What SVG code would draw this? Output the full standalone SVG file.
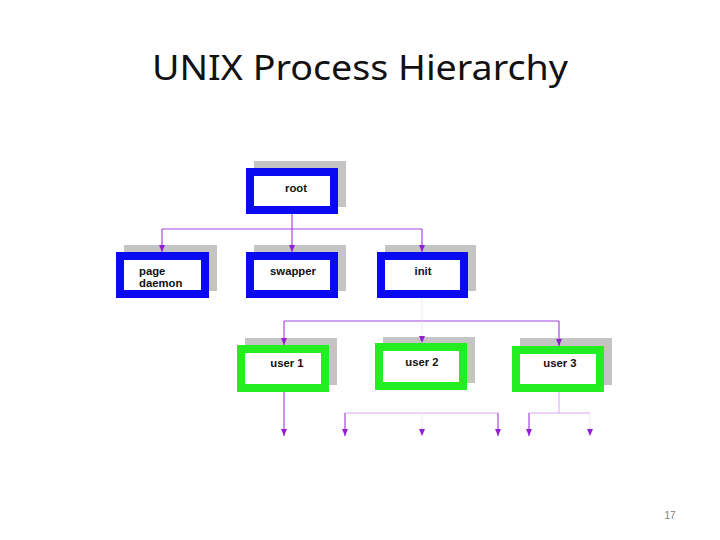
<svg xmlns="http://www.w3.org/2000/svg" width="720" height="540" viewBox="0 0 720 540">
<style>
.shadow{fill:#c4c4c4}
.blue{fill:#ffffff;stroke:#0a0af0;stroke-width:8}
.green{fill:#ffffff;stroke:#22ee22;stroke-width:8}
.lbl{font-family:"Liberation Sans",Arial,sans-serif;font-weight:bold;font-size:11.3px;fill:#111}
.ln{fill:none;stroke:#a845e0;stroke-width:1.2}
.faint{fill:none;stroke:#f0e4f6;stroke-width:1}
.light{fill:none;stroke:#d6a8f0;stroke-width:1}
</style>
<defs>
<marker id="ah" markerUnits="userSpaceOnUse" viewBox="0 -3 7 6" markerWidth="7" markerHeight="6" refX="7" refY="0" orient="auto">
<path d="M0,-3 L7,0 L0,3 z" fill="#9320d0"/>
</marker>
</defs>
<rect width="720" height="540" fill="#ffffff"/>
<text x="360" y="80" text-anchor="middle" font-family="'Noto Sans','Liberation Sans',sans-serif" font-size="35" fill="#111" textLength="416" lengthAdjust="spacingAndGlyphs">UNIX Process Hierarchy</text>
<text x="670" y="519" text-anchor="middle" font-family="'Liberation Sans',Arial,sans-serif" font-size="10" fill="#808080">17</text>

<g id="root">
<rect class="shadow" x="254" y="161" width="92" height="46"/>
<rect class="blue" x="250" y="172" width="84" height="38"/>
<text class="lbl" x="296" y="192" text-anchor="middle">root</text>
</g>
<g id="pagedaemon">
<rect class="shadow" x="124" y="245" width="93" height="46"/>
<rect class="blue" x="120" y="256" width="85" height="38"/>
<text class="lbl" x="139" y="275">page</text>
<text class="lbl" x="139" y="287">daemon</text>
</g>
<g id="swapper">
<rect class="shadow" x="254" y="245" width="92" height="46"/>
<rect class="blue" x="250" y="256" width="84" height="38"/>
<text class="lbl" x="293" y="275" text-anchor="middle">swapper</text>
</g>
<g id="init">
<rect class="shadow" x="385" y="245" width="91" height="46"/>
<rect class="blue" x="381" y="256" width="83" height="38"/>
<text class="lbl" x="423" y="275" text-anchor="middle">init</text>
</g>
<g id="user1">
<rect class="shadow" x="245" y="338" width="92" height="47"/>
<rect class="green" x="241" y="349" width="84" height="39"/>
<text class="lbl" x="287" y="367" text-anchor="middle">user 1</text>
</g>
<g id="user2">
<rect class="shadow" x="383" y="337" width="92" height="46"/>
<rect class="green" x="379" y="347" width="84" height="39"/>
<text class="lbl" x="422" y="366" text-anchor="middle">user 2</text>
</g>
<g id="user3">
<rect class="shadow" x="520" y="338" width="92" height="47"/>
<rect class="green" x="516" y="350" width="84" height="38"/>
<text class="lbl" x="560" y="367" text-anchor="middle">user 3</text>
</g>

<g id="connectors">
<path class="ln" d="M292,214 V229"/>
<path class="ln" d="M162,229 H422"/>
<path class="ln" d="M162,229 V252" marker-end="url(#ah)"/>
<path class="ln" d="M292,229 V252" marker-end="url(#ah)"/>
<path class="ln" d="M422,229 V252" marker-end="url(#ah)"/>
<path class="faint" d="M422,298 V321"/>
<path class="ln" d="M284,321 H559"/>
<path class="ln" d="M284,321 V345" marker-end="url(#ah)"/>
<path class="faint" d="M422,321 V343" marker-end="url(#ah)"/>
<path class="ln" d="M559,321 V346" marker-end="url(#ah)"/>
<path class="ln" d="M284,392 V436" marker-end="url(#ah)"/>
<path class="light" d="M345,413 H498"/>
<path class="ln" d="M345,413 V436" marker-end="url(#ah)"/>
<path class="faint" d="M422,413 V436" marker-end="url(#ah)"/>
<path class="ln" d="M498,413 V436" marker-end="url(#ah)"/>
<path class="light" d="M559,392 V413"/>
<path class="light" d="M529,413 H590"/>
<path class="ln" d="M529,413 V436" marker-end="url(#ah)"/>
<path class="faint" d="M590,413 V436" marker-end="url(#ah)"/>
</g>
</svg>
